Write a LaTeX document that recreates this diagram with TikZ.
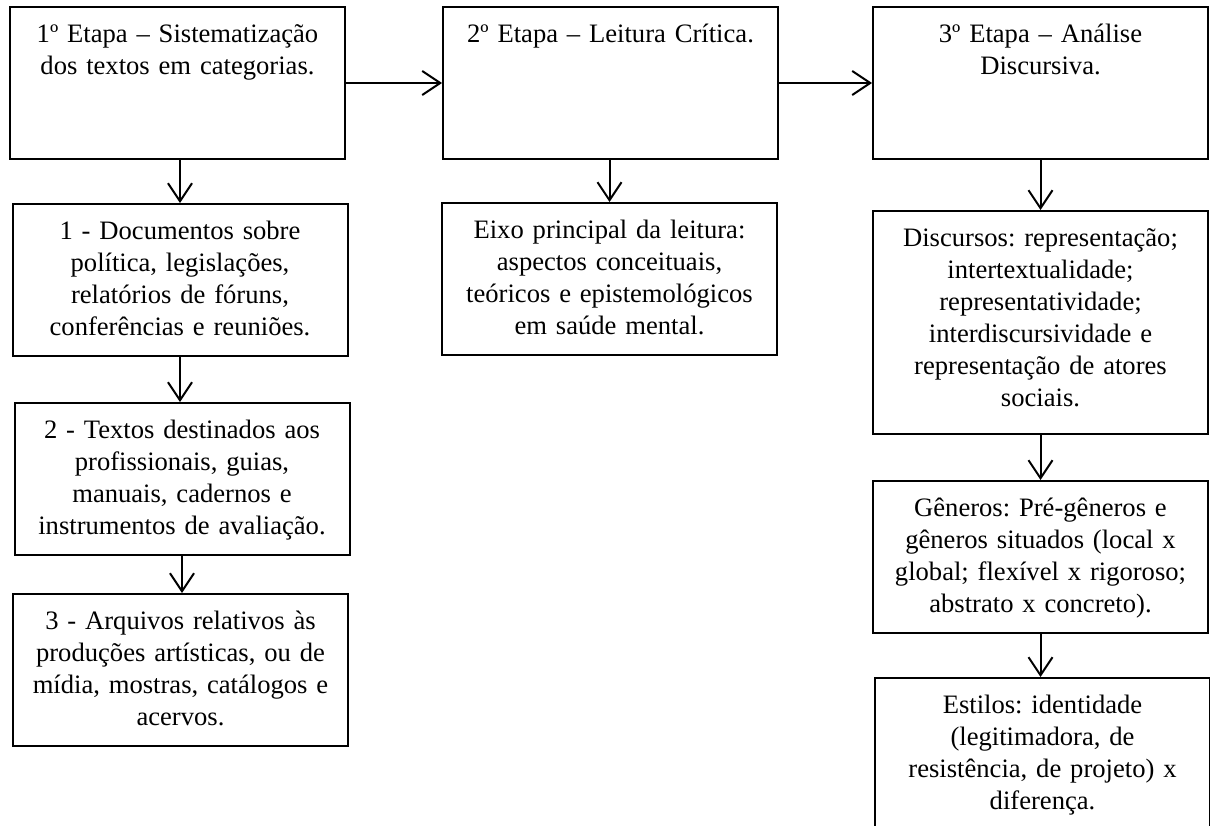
\documentclass[tikz,border=0pt]{standalone}
\usepackage{fontspec}
\setmainfont{Liberation Serif}
\usetikzlibrary{arrows.meta}
\frenchspacing

\begin{document}
\begin{tikzpicture}[x=0.5pt,y=-0.5pt,
    caixa/.style={draw, line width=1pt, anchor=north, align=center,
        text width=159.5pt, inner xsep=4pt, inner ysep=5.6pt,
        text height=12pt, font=\fontsize{13.3pt}{16pt}\selectfont,
        execute at end node=\strut},
    etapa/.style={caixa, text depth=52.8pt},
    seta/.style={-{Straight Barb[length=9pt,width=12pt]}, line width=1pt}]
    \useasboundingbox (0,0) rectangle (1210,825);
    \clip (0,0) rectangle (1210,825);
            % etapas
            \node [etapa] (etapa1) at (177.5,6) {1º Etapa – Sistematização\\dos textos em categorias.};
            \node [etapa] (etapa2) at (610.5,6) {2º Etapa – Leitura Crítica.};
            \node [etapa] (etapa3) at (1040.5,6) {3º Etapa – Análise\\Discursiva.};
            % ->
            \draw [seta] (etapa1.east) -- (etapa2.west);
            \draw [seta] (etapa2.east) -- (etapa3.west);
        
            % 1a coluna
            \node [caixa] (doc1) at (180,203) {1 - Documentos sobre\\política, legislações,\\relatórios de fóruns,\\conferências e reuniões.};
            \node [caixa] (doc2) at (182,402) {2 - Textos destinados aos\\profissionais, guias,\\manuais, cadernos e\\instrumentos de avaliação.};
            \node [caixa] (doc3) at (180.5,593) {3 - Arquivos relativos às\\produções artísticas, ou de\\mídia, mostras, catálogos e\\acervos.};
            % |
            \draw [seta] (doc1.north |- etapa1.south) -- (doc1.north);
            \draw [seta] (doc1.south) -- (doc1.south |- doc2.north);
            \draw [seta] (doc2.south) -- (doc2.south |- doc3.north);
        
            % 2a coluna
            \node [caixa] (eixo) at (609.5,202) {Eixo principal da leitura:\\aspectos conceituais,\\teóricos e epistemológicos\\em saúde mental.};
            % |
            \draw [seta] (eixo.north |- etapa2.south) -- (eixo.north);
        
            % 3a coluna
            \node [caixa, text depth=88.3pt] (discursos) at (1040.5,210) {Discursos: representação;\\intertextualidade;\\representatividade;\\interdiscursividade e\\representação de atores\\sociais.};
            \node [caixa] (generos) at (1040.5,480) {Gêneros: Pré-gêneros e\\gêneros situados (local x\\global; flexível x rigoroso;\\abstrato x concreto).};
            \node [caixa] (estilos) at (1042.5,677) {Estilos: identidade\\(legitimadora, de\\resistência, de projeto) x\\diferença.};
            % |
            \draw [seta] (discursos.north |- etapa3.south) -- (discursos.north);
            \draw [seta] (discursos.south) -- (discursos.south |- generos.north);
            \draw [seta] (generos.south) -- (generos.south |- estilos.north);
\end{tikzpicture}
\end{document}
